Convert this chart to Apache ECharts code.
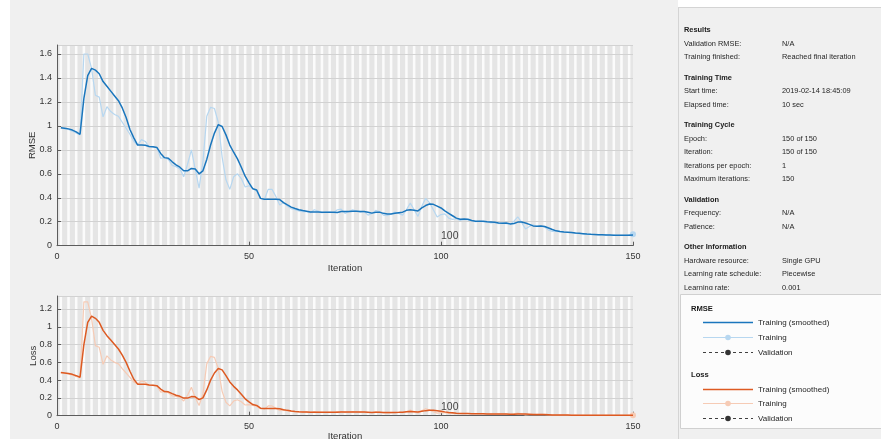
<!DOCTYPE html>
<html><head><meta charset="utf-8">
<script src="https://cdn.jsdelivr.net/npm/echarts@6/dist/echarts.min.js"></script>
<style>html,body{margin:0;padding:0;background:#fff}#c{width:881px;height:439px}</style>
</head><body><div id="c"></div>
<script>
const nIter = 150;
const xTicks = [0, 50, 100, 150];

const rmseSmoothed = [0.985,0.98,0.975,0.965,0.95,0.93,1.23,1.42,1.48,1.465,
1.435,1.37,1.33,1.29,1.25,1.21,1.15,1.07,0.97,0.9,
0.84,0.84,0.838,0.828,0.825,0.82,0.77,0.735,0.73,0.7,
0.675,0.655,0.625,0.625,0.645,0.64,0.6,0.625,0.72,0.84,
0.94,1.01,0.995,0.925,0.84,0.78,0.725,0.655,0.58,0.525,
0.475,0.465,0.395,0.388,0.388,0.388,0.388,0.385,0.36,0.34,
0.322,0.31,0.3,0.293,0.288,0.282,0.282,0.282,0.28,0.28,
0.28,0.28,0.277,0.285,0.285,0.285,0.287,0.287,0.285,0.285,
0.28,0.272,0.28,0.28,0.27,0.265,0.265,0.27,0.275,0.28,
0.295,0.3,0.295,0.29,0.315,0.335,0.348,0.345,0.33,0.315,
0.29,0.27,0.25,0.23,0.22,0.222,0.22,0.21,0.205,0.205,
0.205,0.2,0.198,0.195,0.19,0.188,0.19,0.182,0.185,0.197,
0.198,0.19,0.178,0.165,0.162,0.165,0.16,0.148,0.135,0.124,
0.118,0.115,0.113,0.11,0.106,0.103,0.1,0.097,0.095,0.094,
0.092,0.091,0.09,0.089,0.088,0.088,0.087,0.087,0.088,0.089];

const rmseRaw = [0.985,0.975,0.97,0.955,0.94,0.925,1.6,1.6,1.48,1.255,
1.24,1.075,1.16,1.12,1.095,1.08,1.03,0.98,0.93,0.87,
0.84,0.885,0.87,0.825,0.825,0.82,0.73,0.735,0.72,0.67,
0.66,0.64,0.575,0.68,0.8,0.64,0.48,0.7,1.08,1.155,
1.145,1.03,0.74,0.55,0.47,0.575,0.6,0.56,0.49,0.5,
0.48,0.455,0.395,0.385,0.47,0.47,0.41,0.34,0.36,0.33,
0.31,0.3,0.29,0.285,0.285,0.275,0.3,0.29,0.275,0.28,
0.28,0.275,0.3,0.305,0.27,0.285,0.3,0.29,0.28,0.285,
0.255,0.27,0.295,0.285,0.255,0.25,0.265,0.28,0.27,0.255,
0.3,0.355,0.3,0.245,0.33,0.395,0.36,0.3,0.24,0.26,
0.265,0.23,0.22,0.225,0.21,0.22,0.215,0.21,0.2,0.205,
0.2,0.2,0.19,0.195,0.185,0.19,0.185,0.175,0.205,0.24,
0.195,0.14,0.16,0.175,0.16,0.165,0.155,0.13,0.12,0.12,
0.118,0.115,0.11,0.108,0.105,0.1,0.1,0.095,0.095,0.093,
0.092,0.09,0.09,0.088,0.088,0.087,0.087,0.088,0.09,0.095];

const lossSmoothed = [0.485,0.48,0.475,0.465,0.45,0.432,0.8,1.05,1.12,1.095,
1.05,0.96,0.9,0.85,0.8,0.75,0.68,0.6,0.5,0.41,
0.355,0.355,0.353,0.345,0.342,0.338,0.3,0.272,0.268,0.248,
0.23,0.218,0.198,0.198,0.215,0.212,0.18,0.2,0.29,0.4,
0.48,0.53,0.515,0.45,0.38,0.33,0.29,0.24,0.19,0.155,
0.125,0.115,0.085,0.08,0.08,0.08,0.08,0.078,0.068,0.06,
0.053,0.048,0.045,0.043,0.042,0.04,0.04,0.04,0.04,0.039,
0.039,0.039,0.039,0.041,0.041,0.041,0.042,0.042,0.041,0.041,
0.039,0.037,0.039,0.04,0.037,0.035,0.035,0.037,0.038,0.04,
0.044,0.046,0.045,0.042,0.05,0.057,0.062,0.06,0.055,0.05,
0.043,0.037,0.032,0.027,0.025,0.025,0.024,0.023,0.022,0.021,
0.021,0.02,0.02,0.019,0.018,0.018,0.018,0.017,0.017,0.02,
0.02,0.018,0.016,0.014,0.013,0.014,0.013,0.011,0.009,0.008,
0.007,0.007,0.007,0.006,0.006,0.006,0.005,0.005,0.005,0.005,
0.004,0.004,0.004,0.004,0.004,0.004,0.004,0.004,0.004,0.004];

const lossRaw = [0.485,0.475,0.47,0.456,0.442,0.428,1.28,1.28,1.095,0.788,
0.769,0.578,0.673,0.627,0.6,0.583,0.53,0.48,0.432,0.378,
0.353,0.392,0.378,0.34,0.34,0.336,0.266,0.27,0.259,0.224,
0.218,0.205,0.165,0.231,0.32,0.205,0.115,0.245,0.583,0.667,
0.656,0.53,0.274,0.151,0.11,0.165,0.18,0.157,0.12,0.125,
0.115,0.104,0.078,0.074,0.11,0.11,0.084,0.058,0.065,0.054,
0.048,0.045,0.042,0.041,0.041,0.038,0.045,0.042,0.038,0.039,
0.039,0.038,0.045,0.047,0.036,0.041,0.045,0.042,0.039,0.041,
0.033,0.036,0.044,0.041,0.033,0.031,0.035,0.039,0.036,0.033,
0.045,0.063,0.045,0.03,0.054,0.078,0.065,0.045,0.029,0.034,
0.035,0.026,0.024,0.025,0.022,0.024,0.023,0.022,0.02,0.021,
0.02,0.02,0.018,0.019,0.017,0.018,0.017,0.015,0.021,0.029,
0.019,0.01,0.013,0.015,0.013,0.014,0.012,0.008,0.007,0.007,
0.007,0.007,0.006,0.006,0.006,0.005,0.005,0.005,0.005,0.004,
0.004,0.004,0.004,0.004,0.004,0.004,0.004,0.004,0.004,0.005];

const infoSections = [
  {title: 'Results', rows: [['Validation RMSE:', 'N/A'], ['Training finished:', 'Reached final iteration']]},
  {title: 'Training Time', rows: [['Start time:', '2019-02-14 18:45:09'], ['Elapsed time:', '10 sec']]},
  {title: 'Training Cycle', rows: [['Epoch:', '150 of 150'], ['Iteration:', '150 of 150'], ['Iterations per epoch:', '1'], ['Maximum iterations:', '150']]},
  {title: 'Validation', rows: [['Frequency:', 'N/A'], ['Patience:', 'N/A']]},
  {title: 'Other Information', rows: [['Hardware resource:', 'Single GPU'], ['Learning rate schedule:', 'Piecewise'], ['Learning rate:', '0.001']]}
];
const legendGroups = [
  {title: 'RMSE', items: ['Training (smoothed)', 'Training', 'Validation']},
  {title: 'Loss', items: ['Training (smoothed)', 'Training', 'Validation']}
];

const FONT = '"Liberation Sans", Arial, sans-serif';
const C_RMSE = '#1a76bd', C_RMSE_RAW = '#b7d7f0';
const C_LOSS = '#dd5a22', C_LOSS_RAW = '#f6cbb5';
const AXIS_C = '#5c5c5c', TXT_C = '#333333';

function pairs(arr) { return arr.map((v, i) => [i + 1, v]); }

const bands = [];
for (let e = 1; e <= nIter; e += 2) bands.push([{xAxis: e - 0.33}, {xAxis: e + 0.33}]);

function xAxisCfg(gi, nameGap) {
  return {type: 'value', gridIndex: gi, min: xTicks[0], max: xTicks[xTicks.length - 1], interval: 50,
    name: 'Iteration', nameLocation: 'middle', nameGap: nameGap, nameMoveOverlap: false,
    nameTextStyle: {color: TXT_C, fontSize: 9.5, fontFamily: FONT},
    axisLine: {lineStyle: {color: AXIS_C}}, axisTick: {inside: true, length: 4, lineStyle: {color: AXIS_C}},
    axisLabel: {color: TXT_C, fontSize: 9, fontFamily: FONT, margin: 6}, splitLine: {show: false}, z: 3};
}
function yAxisCfg(gi, name, max, nameGap) {
  return {type: 'value', gridIndex: gi, min: 0, max: max, interval: 0.2,
    name: name, nameLocation: 'middle', nameGap: nameGap, nameMoveOverlap: false,
    nameTextStyle: {color: TXT_C, fontSize: 9.5, fontFamily: FONT},
    axisLine: {show: true, lineStyle: {color: AXIS_C}}, axisTick: {show: true, inside: true, length: 4, lineStyle: {color: AXIS_C}},
    axisLabel: {color: TXT_C, fontSize: 9, fontFamily: FONT, margin: 5, showMaxLabel: false},
    splitLine: {show: true, lineStyle: {color: '#d2d2d2', width: 1}}, z: 2};
}
function stripeSeries(gi) {
  return {type: 'line', xAxisIndex: gi, yAxisIndex: gi, data: [[0, 0]], symbol: 'none', lineStyle: {width: 0}, silent: true, z: 1,
    markArea: {silent: true, itemStyle: {color: '#fbfbfb'}, label: {show: false}, data: bands}};
}
function lastMarker(n) { return (v, p) => (p.dataIndex === n - 1 ? 6 : 0); }

const graphic = [
  {type: 'rect', shape: {x: 10, y: 0, width: 871, height: 439}, style: {fill: '#f0f0f0'}, z: -10, silent: true},
  {type: 'rect', shape: {x: 678, y: 0, width: 203, height: 7}, style: {fill: '#ffffff'}, z: -9, silent: true},
  {type: 'line', shape: {x1: 678.5, y1: 7, x2: 678.5, y2: 439}, style: {stroke: '#d4d4d4', lineWidth: 1}, z: -9, silent: true},
  {type: 'line', shape: {x1: 678, y1: 7.5, x2: 881, y2: 7.5}, style: {stroke: '#d4d4d4', lineWidth: 1}, z: -9, silent: true}
];
let yy = 30;
infoSections.forEach((s, si) => {
  if (si > 0) yy += 20.5;
  graphic.push({type: 'text', x: 684, y: yy, style: {text: s.title, fill: '#1a1a1a', font: 'bold 7.4px ' + FONT, verticalAlign: 'middle'}, z: 5, silent: true});
  s.rows.forEach(r => {
    yy += 13.5;
    graphic.push({type: 'text', x: 684, y: yy, style: {text: r[0], fill: '#262626', font: '7.4px ' + FONT, verticalAlign: 'middle'}, z: 5, silent: true});
    graphic.push({type: 'text', x: 782, y: yy, style: {text: r[1], fill: '#262626', font: '7.4px ' + FONT, verticalAlign: 'middle'}, z: 5, silent: true});
  });
});
graphic.push({type: 'rect', shape: {x: 679, y: 290, width: 202, height: 149}, style: {fill: '#f0f0f0'}, z: 6, silent: true});
graphic.push({type: 'rect', shape: {x: 680.5, y: 294.5, width: 205, height: 134}, style: {fill: '#fcfcfc', stroke: '#d0d0d0', lineWidth: 1}, z: 7, silent: true});
const legendColors = [[C_RMSE, C_RMSE_RAW], [C_LOSS, C_LOSS_RAW]];
let ly = 309;
legendGroups.forEach((g, gi) => {
  if (gi > 0) ly += 23.5;
  graphic.push({type: 'text', x: 691, y: ly, style: {text: g.title, fill: '#1a1a1a', font: 'bold 7.6px ' + FONT, verticalAlign: 'middle'}, z: 8, silent: true});
  g.items.forEach((it, ii) => {
    ly += (ii === 0 ? 13.3 : 14.7);
    const y = Math.round(ly) + 0.5;
    if (ii === 0) {
      graphic.push({type: 'line', shape: {x1: 703, y1: y, x2: 753, y2: y}, style: {stroke: legendColors[gi][0], lineWidth: 1.5}, z: 8, silent: true});
    } else if (ii === 1) {
      graphic.push({type: 'line', shape: {x1: 703, y1: y, x2: 753, y2: y}, style: {stroke: legendColors[gi][1], lineWidth: 1.2}, z: 8, silent: true});
      graphic.push({type: 'circle', shape: {cx: 728, cy: y, r: 2.8}, style: {fill: legendColors[gi][1]}, z: 9, silent: true});
    } else {
      graphic.push({type: 'line', shape: {x1: 703, y1: y, x2: 753, y2: y}, style: {stroke: '#404040', lineWidth: 1, lineDash: [3, 3]}, z: 8, silent: true});
      graphic.push({type: 'circle', shape: {cx: 728, cy: y, r: 2.8}, style: {fill: '#333333'}, z: 9, silent: true});
    }
    graphic.push({type: 'text', x: 758, y: y, style: {text: it, fill: '#262626', font: '8px ' + FONT, verticalAlign: 'middle'}, z: 8, silent: true});
  });
});

function annot(y) {
  return {symbol: 'circle', symbolSize: 0, silent: true, data: [{coord: [100, y], value: 100}],
    label: {show: true, position: 'right', distance: 0, formatter: '100', color: '#444', fontSize: 10.5, fontFamily: FONT}};
}

const chart = echarts.init(document.getElementById('c'), null, {renderer: 'canvas'});
chart.setOption({
  backgroundColor: '#ffffff',
  animation: false,
  textStyle: {fontFamily: FONT},
  grid: [
    {left: 57, right: 248, top: 45, height: 200.7, show: true, backgroundColor: '#e5e5e5', borderWidth: 0, outerBoundsMode: 'none', containLabel: false},
    {left: 57, right: 248, top: 296, height: 119.7, show: true, backgroundColor: '#e5e5e5', borderWidth: 0, outerBoundsMode: 'none', containLabel: false}
  ],
  xAxis: [xAxisCfg(0, 18), xAxisCfg(1, 16)],
  yAxis: [yAxisCfg(0, 'RMSE', 1.675, 20), yAxisCfg(1, 'Loss', 1.346, 19)],
  graphic: graphic,
  series: [
    stripeSeries(0), stripeSeries(1),
    {type: 'line', xAxisIndex: 0, yAxisIndex: 0, data: pairs(rmseRaw), z: 4, symbol: 'circle', showAllSymbol: true,
      symbolSize: lastMarker(nIter), itemStyle: {color: C_RMSE_RAW}, lineStyle: {color: C_RMSE_RAW, width: 1.2}},
    {type: 'line', xAxisIndex: 0, yAxisIndex: 0, data: pairs(rmseSmoothed), z: 5, symbol: 'none',
      lineStyle: {color: C_RMSE, width: 1.5}, markPoint: annot(0.083)},
    {type: 'line', xAxisIndex: 1, yAxisIndex: 1, data: pairs(lossRaw), z: 4, symbol: 'circle', showAllSymbol: true,
      symbolSize: lastMarker(nIter), itemStyle: {color: C_LOSS_RAW}, lineStyle: {color: C_LOSS_RAW, width: 1.2}},
    {type: 'line', xAxisIndex: 1, yAxisIndex: 1, data: pairs(lossSmoothed), z: 5, symbol: 'none',
      lineStyle: {color: C_LOSS, width: 1.5}, markPoint: annot(0.094)}
  ]
});
</script></body></html>
